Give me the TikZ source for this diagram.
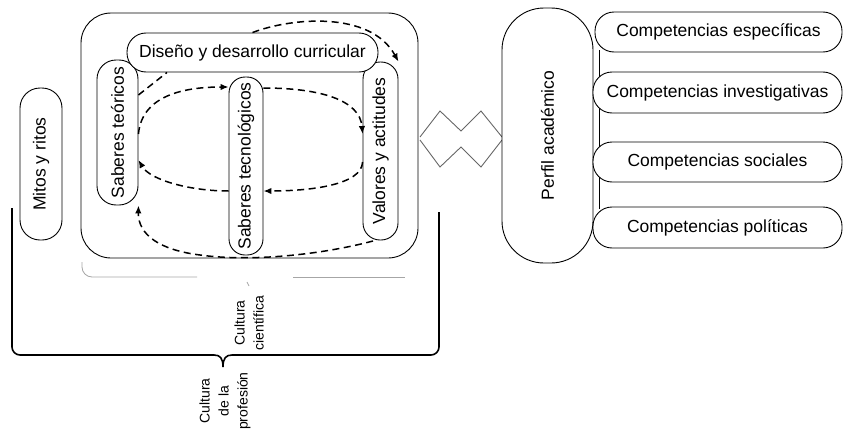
\documentclass[tikz,border=0pt]{standalone}
\usepackage{fontspec}
\usepackage{graphicx}
\setmainfont{Liberation Sans}
\usetikzlibrary{arrows.meta}
\tikzset{
  box/.style={draw, line width=0.9pt, fill=white, rectangle, inner sep=0pt, font=\fontsize{17.5}{19}\selectfont},
  dashline/.style={line width=1.5pt, dash pattern=on 7pt off 4.5pt},
  dasharrow/.style={dashline, -{Latex[length=8pt,width=6.5pt]}},
  small/.style={font=\fontsize{14}{19}\selectfont, align=center, inner sep=0pt},
  faint/.style={gray!70, line width=0.8pt},
}
\begin{document}
\begin{tikzpicture}[x=1pt,y=-1pt]
\useasboundingbox (0,0) rectangle (843,431);
% outer frame
\draw[line width=0.9pt, rounded corners=30pt] (81,13) rectangle (418,258);
% faint bracket under frame
\draw[faint, rounded corners=10pt] (82,262) -- (82,277) -- (197,277);
\draw[faint] (293,277) -- (405,277);
\draw[faint] (247,282) -- (249,286);
% big brace
\draw[line width=1.6pt, rounded corners=8pt] (12,208) -- (12,355) -- (214,355);
\draw[line width=1.6pt] (214,355) .. controls (220,355) and (223,358) .. (223,367)
  .. controls (223,358) and (226,355) .. (232,355);
\draw[line width=1.6pt, rounded corners=8pt] (232,355) -- (439,355) -- (439,212);
% nodes
\node[box, rounded corners=20pt, minimum width=42pt, minimum height=152pt] (mitos) at (41,164) {\rotatebox{90}{Mitos y ritos}};
\node[box, rounded corners=19pt, minimum width=41pt, minimum height=145pt] (teo) at (117.5,132.5) {\rotatebox{90}{Saberes teóricos}};
\node[box, rounded corners=17pt, minimum width=35pt, minimum height=178pt] (val) at (380.5,151) {\rotatebox{90}{Valores y actitudes}};
\node[box, rounded corners=19pt, minimum width=251pt, minimum height=39pt] (dis) at (252.5,52.5) {Diseño y desarrollo curricular};
\node[box, rounded corners=16pt, minimum width=34pt, minimum height=178pt] (tec) at (246,166) {\rotatebox{90}{Saberes tecnológicos}};
% zigzag
\draw[gray!80!black, line width=0.9pt] (420,137) -- (440,111) -- (461,131) -- (481,111) -- (502,137);
\draw[gray!80!black, line width=0.9pt] (420,140) -- (440,167) -- (461,147) -- (481,167) -- (502,140);
% perfil
\node[box, rounded corners=42pt, minimum width=91pt, minimum height=255pt] (perfil) at (547.5,135.5) {\rotatebox{90}{Perfil académico}};
\coordinate (vtop) at (599,50);
\coordinate (vbot) at (599,209);
\draw[line width=0.9pt] (vtop) -- (vbot);
\node[box, rounded corners=19pt, minimum width=247pt, minimum height=40pt] (c1) at (718.5,32) {Competencias específicas};
\node[box, rounded corners=19pt, minimum width=249pt, minimum height=41pt] (c2) at (717.5,92.5) {Competencias investigativas};
\node[box, rounded corners=19pt, minimum width=249pt, minimum height=40pt] (c3) at (717.5,162) {Competencias sociales};
\node[box, rounded corners=19pt, minimum width=249pt, minimum height=41pt] (c4) at (717.5,227.5) {Competencias políticas};
% labels
\node[small, rotate=90] (cc) at (249,323) {Cultura\\científica};
\node[small, rotate=90, anchor=east] (cp) at (225,372) {Cultura\\de la\\profesión};
% dashed arrows
\draw[dasharrow] (dis.north) .. controls (290,18) and (370,10) .. (val.north east);
\draw[dashline] (teo.east |- 0,95) -- (dis.south -| 167,0);
\draw[dasharrow] (teo.east |- 0,134) .. controls (142,95) and (185,87) .. (tec.west |- 0,87);
\draw[dasharrow] (tec.east |- 0,88) .. controls (320,88) and (360,100) .. (val.west |- 0,134);
\draw[dasharrow] (val.west |- 0,162) .. controls (362,185) and (310,191) .. (tec.east |- 0,191);
\draw[dasharrow] (tec.west |- 0,191) .. controls (190,191) and (150,180) .. (teo.east |- 0,160);
\draw[dasharrow] (373,241) .. controls (320,255) and (250,262) .. (200,255) .. controls (160,250) and (138,235) .. (teo.south east);
\end{tikzpicture}
\end{document}
